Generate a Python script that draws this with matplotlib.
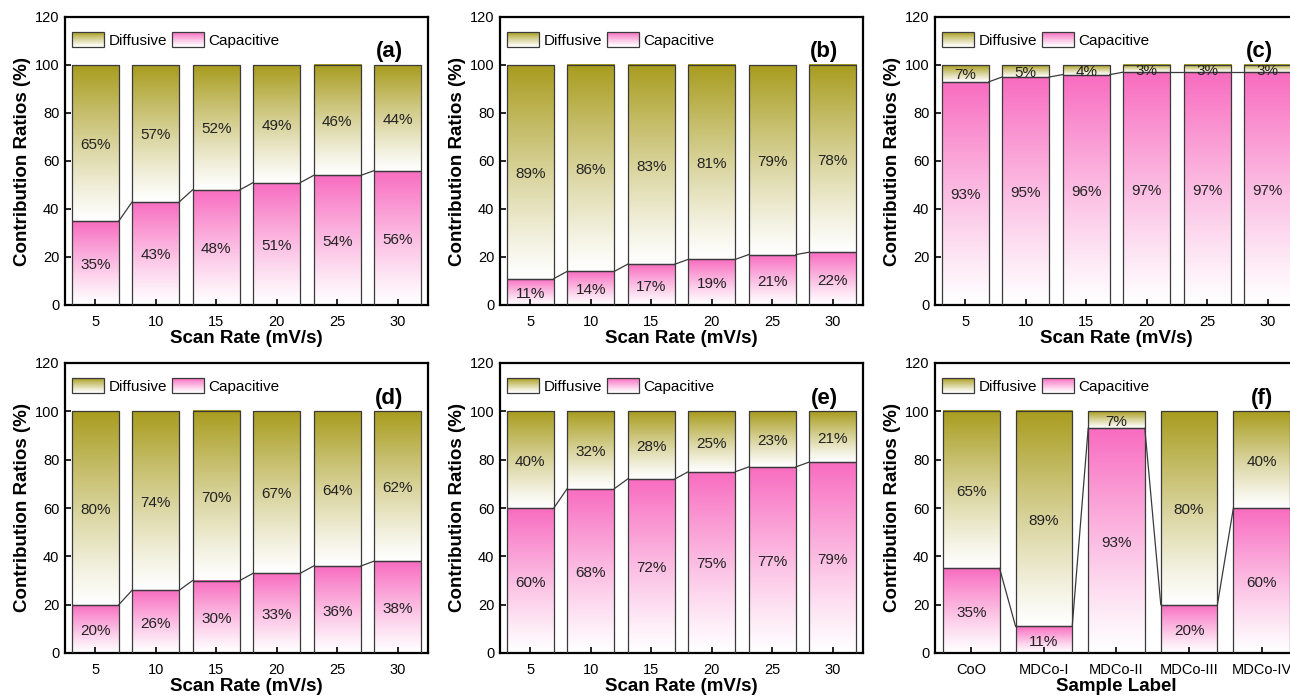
import numpy as np
import matplotlib
matplotlib.use("Agg")
import matplotlib.pyplot as plt
from matplotlib.patches import Rectangle
from matplotlib.legend_handler import HandlerBase
from matplotlib.colors import to_rgb

plt.rcParams["font.family"] = ["Liberation Sans", "DejaVu Sans"]

# ---- data -------------------------------------------------------------
scan_rates = ["5", "10", "15", "20", "25", "30"]
samples = ["CoO", "MDCo-I", "MDCo-II", "MDCo-III", "MDCo-IV"]

cap_a = [35, 43, 48, 51, 54, 56]
dif_a = [65, 57, 52, 49, 46, 44]

cap_b = [11, 14, 17, 19, 21, 22]
dif_b = [89, 86, 83, 81, 79, 78]

cap_c = [93, 95, 96, 97, 97, 97]
dif_c = [7, 5, 4, 3, 3, 3]

cap_d = [20, 26, 30, 33, 36, 38]
dif_d = [80, 74, 70, 67, 64, 62]

cap_e = [60, 68, 72, 75, 77, 79]
dif_e = [40, 32, 28, 25, 23, 21]

cap_f = [35, 11, 93, 20, 60]
dif_f = [65, 89, 7, 80, 40]

panel_letters = ["(a)", "(b)", "(c)", "(d)", "(e)", "(f)"]

# ---- style ------------------------------------------------------------
DIF_COLOR = "#a89c1e"
CAP_COLOR = "#f86cc0"
EDGE = "#3a3a3a"
BAR_W = 0.78


def gradient(color, n=256, gamma=1.15):
    c = np.array(to_rgb(color))
    w = np.ones(3)
    t = np.linspace(0, 1, n)[:, None] ** gamma
    return (w * (1 - t) + c * t)[:, None, :]


def fill_bars(ax, bars, color):
    grad = gradient(color)
    for b in bars:
        x0, y0 = b.get_x(), b.get_y()
        w, h = b.get_width(), b.get_height()
        ax.imshow(grad, extent=[x0, x0 + w, y0, y0 + h], origin="lower",
                  aspect="auto", interpolation="bilinear", zorder=1)


class GradientHandler(HandlerBase):
    def __init__(self, color, n=40):
        super().__init__()
        self.color = color
        self.n = n

    def create_artists(self, legend, orig_handle, xdescent, ydescent,
                       width, height, fontsize, trans):
        c = np.array(to_rgb(self.color))
        arts = []
        for i in range(self.n):
            t = ((i + 0.5) / self.n) ** 1.15
            col = (1 - t) * np.ones(3) + t * c
            r = Rectangle((-xdescent, -ydescent + height * i / self.n),
                          width, height / self.n * 1.05, facecolor=col,
                          edgecolor="none", antialiased=False, transform=trans)
            arts.append(r)
        arts.append(Rectangle((-xdescent, -ydescent), width, height,
                              facecolor="none", edgecolor=EDGE, lw=0.9,
                              transform=trans))
        return arts


def draw_panel(ax, labels, cap, dif, letter, xlabel):
    x = np.arange(len(labels))
    cap_bars = ax.bar(x, cap, BAR_W, facecolor="none", edgecolor=EDGE,
                      linewidth=0.9, zorder=3)
    dif_bars = ax.bar(x, dif, BAR_W, bottom=cap, facecolor="none",
                      edgecolor=EDGE, linewidth=0.9, zorder=3)
    fill_bars(ax, cap_bars, CAP_COLOR)
    fill_bars(ax, dif_bars, DIF_COLOR)

    # connectors between the tops of neighbouring capacitive bars
    for i in range(len(x) - 1):
        ax.plot([x[i] + BAR_W / 2, x[i + 1] - BAR_W / 2], [cap[i], cap[i + 1]],
                color=EDGE, lw=0.9, zorder=3)

    # percentage labels, centred in each segment (nudged slightly down)
    for i in range(len(x)):
        ax.annotate(f"{cap[i]}%", (x[i], cap[i] / 2), xytext=(0, -1.5),
                    textcoords="offset points", ha="center", va="center",
                    fontsize=11, color="#222222", zorder=4)
        ax.annotate(f"{dif[i]}%", (x[i], cap[i] + dif[i] / 2),
                    xytext=(0, -1.5), textcoords="offset points",
                    ha="center", va="center", fontsize=11, color="#222222",
                    zorder=4)

    ax.set_xlim(-0.5, len(x) - 0.5)
    ax.set_ylim(0, 120)
    ax.set_yticks(np.arange(0, 121, 20))
    ax.set_xticks(x)
    ax.set_xticklabels(labels)
    ax.tick_params(axis="both", direction="in", length=4, width=1.2,
                   labelsize=10.5, top=False, right=False)
    ax.tick_params(axis="x", pad=7)
    ax.tick_params(axis="y", pad=4)
    for s in ax.spines.values():
        s.set_linewidth(1.6)
        s.set_color("black")
    ax.set_ylabel("Contribution Ratios (%)", fontsize=13.5, fontweight="bold",
                  labelpad=3)
    ax.set_xlabel(xlabel, fontsize=13.5, fontweight="bold", labelpad=1)

    ax.text(0.932, 0.879, letter, transform=ax.transAxes, ha="right",
            va="center", fontsize=16, fontweight="bold")

    h_dif = Rectangle((0, 0), 1, 1)
    h_cap = Rectangle((0, 0), 1, 1)
    ax.legend([h_dif, h_cap], ["Diffusive", "Capacitive"], ncol=2,
              loc="upper left", bbox_to_anchor=(0.02, 0.948),
              frameon=False, fontsize=11,
              handlelength=2.1, handleheight=1.1, handletextpad=0.3,
              columnspacing=0.3, borderaxespad=0.0, borderpad=0.0,
              handler_map={h_dif: GradientHandler(DIF_COLOR),
                           h_cap: GradientHandler(CAP_COLOR)})


fig = plt.figure(figsize=(12.9, 6.97), dpi=100)
W, H = 1290.0, 697.0
aw = 363 / W
lefts = [65 / W, 500 / W, 935 / W]
top_row = (392 / H, 288 / H)
bot_row = (44 / H, 290 / H)

panels = [
    (scan_rates, cap_a, dif_a, "Scan Rate (mV/s)"),
    (scan_rates, cap_b, dif_b, "Scan Rate (mV/s)"),
    (scan_rates, cap_c, dif_c, "Scan Rate (mV/s)"),
    (scan_rates, cap_d, dif_d, "Scan Rate (mV/s)"),
    (scan_rates, cap_e, dif_e, "Scan Rate (mV/s)"),
    (samples, cap_f, dif_f, "Sample Label"),
]

for k, (labels, cap, dif, xl) in enumerate(panels):
    row = top_row if k < 3 else bot_row
    ax = fig.add_axes([lefts[k % 3], row[0], aw, row[1]])
    draw_panel(ax, labels, cap, dif, panel_letters[k], xl)

fig.savefig("out.png", dpi=100)
